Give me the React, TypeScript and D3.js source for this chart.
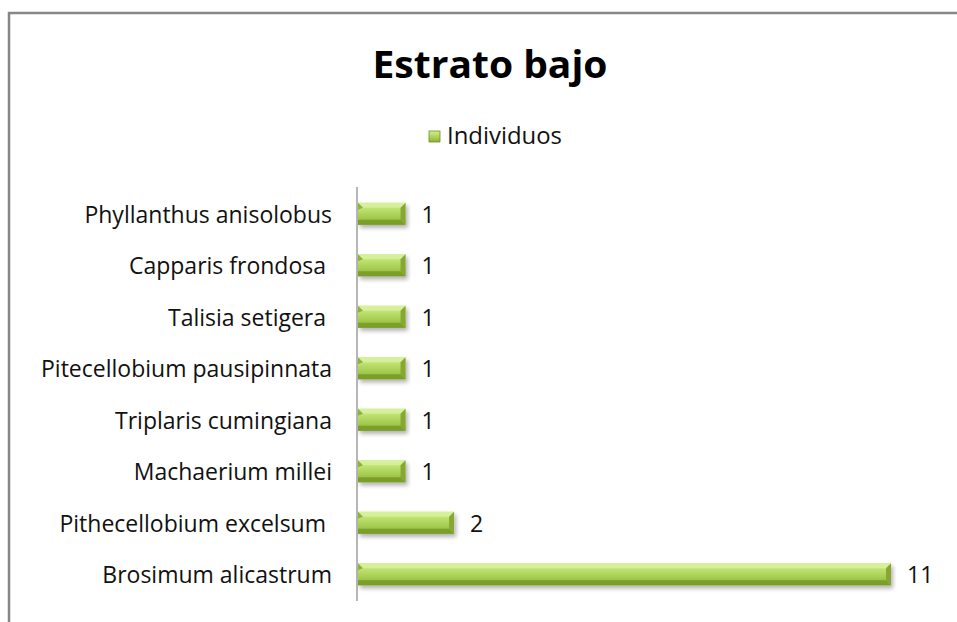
import React from "react";
import * as d3 from "d3";

const categories = [
  "Phyllanthus anisolobus",
  "Capparis frondosa ",
  "Talisia setigera ",
  "Pitecellobium pausipinnata",
  "Triplaris cumingiana",
  "Machaerium millei",
  "Pithecellobium excelsum ",
  "Brosimum alicastrum",
];
const values = [1, 1, 1, 1, 1, 1, 2, 11];
const seriesName = "Individuos";
const title = "Estrato bajo";

export default function App() {
  const W = 957, H = 622;
  const x = d3.scaleLinear().domain([0, 11]).range([357, 891]);
  const y = d3.scaleBand().domain(categories).range([188, 600]).paddingInner(0.57).paddingOuter(0.285);
  const font = "'Open Sans', sans-serif";
  const bh = y.bandwidth();
  const fs = 23;
  return (
    <div style={{ position: "absolute", left: 0, top: 0 }}>
      <svg width={W} height={H} style={{ display: "block" }}>
        <defs>
          <linearGradient id="barG" x1="0" y1="0" x2="0" y2="1">
            <stop offset="0" stopColor="#d0ed92" />
            <stop offset="0.25" stopColor="#c0e274" />
            <stop offset="0.6" stopColor="#a9cf54" />
            <stop offset="1" stopColor="#8cb038" />
          </linearGradient>
          <filter id="sh" x="-5%" y="-30%" width="115%" height="180%">
            <feGaussianBlur in="SourceAlpha" stdDeviation="2" />
            <feOffset dx="2" dy="3" result="b" />
            <feComponentTransfer><feFuncA type="linear" slope="0.3" /></feComponentTransfer>
            <feMerge><feMergeNode /><feMergeNode in="SourceGraphic" /></feMerge>
          </filter>
        </defs>
        <rect x={0} y={0} width={W} height={H} fill="#fff" />
        <path d={`M9,622 V13 H957`} fill="none" stroke="#878787" strokeWidth={2.5} />
        <text x={490} y={78} textAnchor="middle" fontFamily={font} fontWeight="bold" fontSize={38} fill="#000" textLength={235} lengthAdjust="spacingAndGlyphs">{title}</text>
        <rect x={429} y={131} width={11} height={11} fill="url(#barG)" stroke="#6f8f25" strokeWidth={0.8} />
        <text x={447} y={144} fontFamily={font} fontSize={fs} fill="#111" textLength={115} lengthAdjust="spacingAndGlyphs">{seriesName}</text>
        <line x1={357} x2={357} y1={187} y2={601} stroke="#868686" strokeWidth={1.2} />
        {categories.map((c, i) => {
          const y0 = y(c)!;
          const x0 = x(0) + 1, x1 = x(values[i]);
          const e = 5;
          return (
            <g key={c}>
              <g filter="url(#sh)">
                <rect x={x0} y={y0} width={x1 - x0} height={bh} fill="url(#barG)" />
                <polygon points={`${x0},${y0} ${x1},${y0} ${x1 - e},${y0 + e} ${x0 + e},${y0 + e}`} fill="#d8f1a0" opacity={0.8} />
                <polygon points={`${x0},${y0 + bh} ${x1},${y0 + bh} ${x1 - e},${y0 + bh - e} ${x0},${y0 + bh - e}`} fill="#759a28" opacity={0.85} />
                <polygon points={`${x1},${y0} ${x1},${y0 + bh} ${x1 - e},${y0 + bh - e} ${x1 - e},${y0 + e}`} fill="#86a832" />
                <polygon points={`${x0},${y0} ${x0 + e},${y0 + e} ${x0},${y0 + e + 2}`} fill="#8fb23a" />
              </g>
              <text x={x1 + 16} y={y0 + bh / 2 + 9} fontFamily={font} fontSize={fs} fill="#111">{values[i]}</text>
              <text x={332} y={y0 + bh / 2 + 9} textAnchor="end" fontFamily={font} fontSize={fs} fill="#111" style={{ whiteSpace: "pre" }}>{c}</text>
            </g>
          );
        })}
      </svg>
    </div>
  );
}
